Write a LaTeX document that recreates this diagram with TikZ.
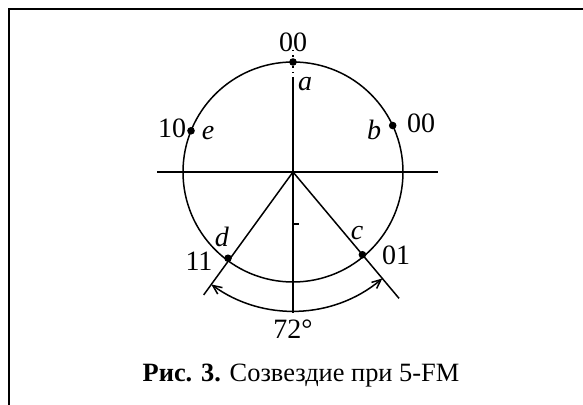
\documentclass[tikz,border=0pt]{standalone}
\usepackage{fontspec}
\setmainfont{Liberation Serif}
\usetikzlibrary{arrows.meta, calc}
\tikzset{
  pnt/.style={circle, fill, inner sep=0pt, minimum size=3.8pt},
  lbl/.style={font=\fontsize{14}{16}\selectfont, inner sep=0pt},
  ang/.style={{Straight Barb[length=4.5pt, width=4pt]}-{Straight Barb[length=4.5pt, width=4pt]}},
}

\begin{document}
\begin{tikzpicture}[x=0.5pt, y=-0.5pt, line width=0.75pt]
  \useasboundingbox (0,0) rectangle (583,405);
  % frame
  \draw[line width=1.1pt] (9,405) -- (9,9) -- (583,9);
  % axes and circle
  \coordinate (O) at (293,172);
  \coordinate (xl) at (157,172);
  \coordinate (xr) at (438,172);
  \coordinate (yt) at (293,50);
  \coordinate (ym) at (293,78);
  \coordinate (yb) at (293,313);
  \draw (O) circle[radius=110];
  \draw (xl) -- (xr);
  \draw[dotted] (yt) -- (ym);
  \draw (ym) -- (yb);
  \draw (293,224) -- (299,224);
  % signal points
  \node[pnt] (a) at ($(O)+(-90:110)$) {};
  \node[pnt] (b) at ($(O)+(-25:110)$) {};
  \node[pnt] (c) at ($(O)+(50:108)$) {};
  \node[pnt] (d) at ($(O)+(127:108)$) {};
  \node[pnt] (e) at ($(O)+(-158:110)$) {};
  % rays and angle
  \coordinate (rl) at ($(O)+(126:152)$);
  \coordinate (rr) at ($(O)+(50:165)$);
  \coordinate (arcL) at ($(O)+(126:139)$);
  \draw (O) -- (rl);
  \draw (O) -- (rr);
  \draw[ang] (arcL) arc[start angle=126, end angle=50, radius=139];
  % labels
  \node[lbl] (la) at (305,84) {\textit{a}};
  \node[lbl] (lb) at (374,130) {\textit{b}};
  \node[lbl] (lc) at (357,233) {\textit{c}};
  \node[lbl] (ld) at (222,237) {\textit{d}};
  \node[lbl] (le) at (208,133) {\textit{e}};
  \node[lbl] (ca) at (293,42) {00};
  \node[lbl] (cb) at (421,123) {00};
  \node[lbl] (cc) at (396,255) {01};
  \node[lbl] (cd) at (199,261) {11};
  \node[lbl] (ce) at (172,128) {10};
  \node[lbl] (deg) at (293,329) {72°};
  \node[lbl, font=\fontsize{13.2}{15}\selectfont] (cap) at (301,376)
    {\textbf{Рис. 3.} Созвездие при 5-FM};
\end{tikzpicture}
\end{document}
